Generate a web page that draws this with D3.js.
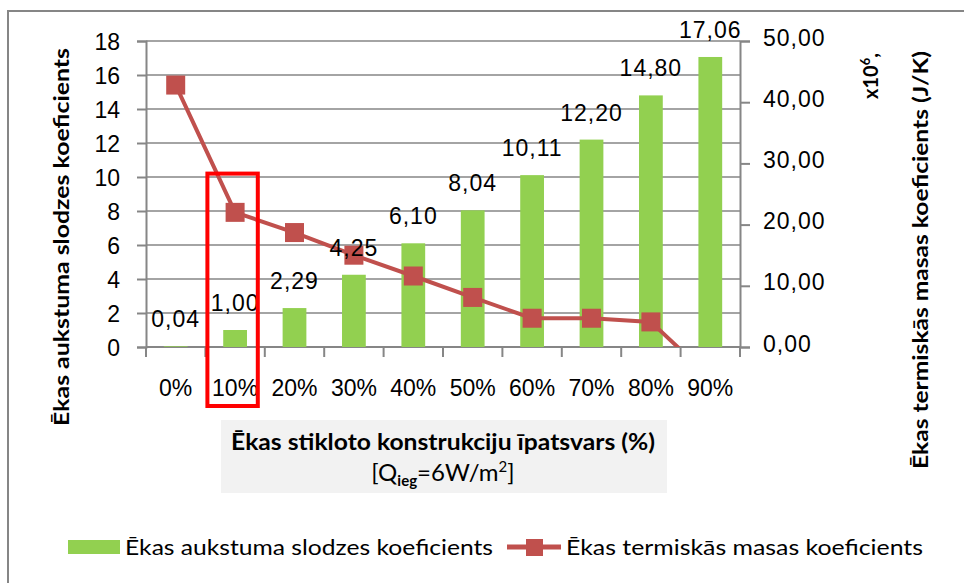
<!DOCTYPE html>
<html>
<head>
<meta charset="utf-8">
<script src="https://cdn.jsdelivr.net/npm/d3@7"></script>
<style>
  body { margin: 0; background: #fff; }
  text { font-family: "Liberation Sans", Arial, sans-serif; }
  .cal { font-family: Lato, "Open Sans", sans-serif; }
</style>
</head>
<body>
<div id="chart"></div>
<script>
// chart data
var categories = ["0%", "10%", "20%", "30%", "40%", "50%", "60%", "70%", "80%", "90%"];
var coolingLoad = [0.04, 1.00, 2.29, 4.25, 6.10, 8.04, 10.11, 12.20, 14.80, 17.06];
var thermalMass = [42.8, 22.0, 18.7, 15.0, 11.6, 8.1, 4.7, 4.7, 4.1, -5.0];
var leftTicks = [0, 2, 4, 6, 8, 10, 12, 14, 16, 18];
var rightTicks = [0, 10, 20, 30, 40, 50];

var barColor = "#92d050";
var lineColor = "#c0504d";
var gridColor = "#868686";

var svg = d3.select("#chart").append("svg")
  .attr("width", 964)
  .attr("height", 583);

svg.append("rect").attr("width", 964).attr("height", 583).attr("fill", "#fff");

// outer frame (runs off the right / bottom edge)
svg.append("rect")
  .attr("x", 8).attr("y", 11)
  .attr("width", 1000).attr("height", 1000)
  .attr("fill", "none")
  .attr("stroke", gridColor)
  .attr("stroke-width", 2);

var plot = { left: 146, right: 740, top: 41, bottom: 347 };

var x = d3.scaleBand()
  .domain(categories)
  .range([plot.left, plot.right])
  .padding(0);

var yL = d3.scaleLinear().domain([0, 18]).range([plot.bottom, plot.top]);
var yR = d3.scaleLinear().domain([0, 50]).range([plot.bottom, plot.top]);

var lv = d3.formatLocale({ decimal: ",", thousands: " ", grouping: [3], currency: ["", ""] });
var fmt2 = lv.format(".2f");

// gridlines
svg.append("g").selectAll("line")
  .data(leftTicks.filter(function(d) { return d > 0; }))
  .enter().append("line")
  .attr("x1", plot.left).attr("x2", plot.right)
  .attr("y1", function(d) { return yL(d); })
  .attr("y2", function(d) { return yL(d); })
  .attr("stroke", gridColor)
  .attr("stroke-width", 1.5);

// left axis
var leftAxis = svg.append("g")
  .attr("transform", "translate(" + plot.left + ",0)")
  .call(d3.axisLeft(yL).tickValues(leftTicks).tickSize(9).tickPadding(17).tickFormat(d3.format("d")));

// right axis
var rightAxis = svg.append("g")
  .attr("transform", "translate(" + plot.right + ",0)")
  .call(d3.axisRight(yR).tickValues(rightTicks).tickSize(10).tickPadding(13).tickFormat(fmt2));

// bottom axis: ticks at the category boundaries
var boundaries = categories.map(function(c) { return x(c); }).concat([plot.right]);
var bottom = svg.append("g");
bottom.append("line")
  .attr("x1", plot.left).attr("x2", plot.right)
  .attr("y1", plot.bottom).attr("y2", plot.bottom)
  .attr("stroke", gridColor).attr("stroke-width", 2);
bottom.selectAll(".bt").data(boundaries).enter().append("line")
  .attr("x1", function(d) { return d; }).attr("x2", function(d) { return d; })
  .attr("y1", plot.bottom).attr("y2", plot.bottom + 10)
  .attr("stroke", gridColor).attr("stroke-width", 2);
bottom.selectAll("text").data(categories).enter().append("text")
  .attr("x", function(d) { return x(d) + x.bandwidth() / 2; })
  .attr("y", 396)
  .attr("text-anchor", "middle")
  .attr("font-size", 23)
  .attr("fill", "#000")
  .text(function(d) { return d; });

[leftAxis, rightAxis].forEach(function(ax) {
  ax.select(".domain").attr("stroke", gridColor).attr("stroke-width", 2);
  ax.selectAll(".tick line").attr("stroke", gridColor).attr("stroke-width", 2);
  ax.selectAll(".tick text").attr("font-size", 23).attr("fill", "#000")
    .attr("font-family", "Liberation Sans, Arial, sans-serif");
});
rightAxis.selectAll(".tick text").attr("dy", "0.18em").attr("letter-spacing", 1);
leftAxis.selectAll(".tick text").attr("dy", "0.38em");

// bars
var barW = x.bandwidth() * 0.4;
svg.append("g").selectAll("rect")
  .data(coolingLoad)
  .enter().append("rect")
  .attr("x", function(d, i) { return x(categories[i]) + (x.bandwidth() - barW) / 2; })
  .attr("y", function(d) { return yL(d); })
  .attr("width", barW)
  .attr("height", function(d) { return yL(0) - yL(d); })
  .attr("fill", barColor);

// line, clipped to the plot area
svg.append("clipPath").attr("id", "plotClip")
  .append("rect")
  .attr("x", plot.left).attr("y", plot.top - 12)
  .attr("width", plot.right - plot.left)
  .attr("height", plot.bottom - plot.top + 12);

var lineGroup = svg.append("g").attr("clip-path", "url(#plotClip)");
var line = d3.line()
  .x(function(d, i) { return x(categories[i]) + x.bandwidth() / 2; })
  .y(function(d) { return yR(d); });

lineGroup.append("path")
  .datum(thermalMass)
  .attr("d", line)
  .attr("fill", "none")
  .attr("stroke", lineColor)
  .attr("stroke-width", 4);

var mk = 19;
lineGroup.selectAll(".mk").data(thermalMass).enter().append("rect")
  .attr("x", function(d, i) { return x(categories[i]) + x.bandwidth() / 2 - mk / 2; })
  .attr("y", function(d) { return yR(d) - mk / 2; })
  .attr("width", mk).attr("height", mk)
  .attr("fill", lineColor);

// data labels on bars
svg.append("g").selectAll("text")
  .data(coolingLoad)
  .enter().append("text")
  .attr("x", function(d, i) { return x(categories[i]) + x.bandwidth() / 2; })
  .attr("y", function(d) { return yL(d) - 19; })
  .attr("text-anchor", "middle")
  .attr("font-size", 23)
  .attr("letter-spacing", 1)
  .attr("fill", "#000")
  .text(function(d) { return fmt2(d); });

// highlight box around 10%
var hb = x("10%");
svg.append("rect")
  .attr("x", hb + 2)
  .attr("y", yL(10.2))
  .attr("width", x.bandwidth() - 9)
  .attr("height", plot.bottom + 59 - yL(10.2))
  .attr("fill", "none")
  .attr("stroke", "#ff0000")
  .attr("stroke-width", 4);

// x axis title box
svg.append("rect")
  .attr("x", 221).attr("y", 420)
  .attr("width", 446).attr("height", 73)
  .attr("fill", "#f2f2f2");

svg.append("text").attr("class", "cal")
  .attr("x", 443).attr("y", 450)
  .attr("text-anchor", "middle")
  .attr("font-size", 22).attr("font-weight", "bold")
  .attr("textLength", 424).attr("lengthAdjust", "spacingAndGlyphs")
  .text("Ēkas stikloto  konstrukciju īpatsvars (%)");

var sub = svg.append("text").attr("class", "cal")
  .attr("x", 443).attr("y", 481)
  .attr("text-anchor", "middle")
  .attr("font-size", 24);
sub.append("tspan").text("[Q");
sub.append("tspan").attr("font-size", 15).attr("font-weight", "bold").attr("dy", 5).text("ieg");
sub.append("tspan").attr("dy", -5).text("=6W/m");
sub.append("tspan").attr("font-size", 15).attr("dy", -9).text("2");
sub.append("tspan").attr("dy", 9).text("]");

// left axis title
svg.append("text").attr("class", "cal")
  .attr("transform", "translate(69,237) rotate(-90)")
  .attr("text-anchor", "middle")
  .attr("font-size", 21).attr("font-weight", "bold")
  .attr("textLength", 378).attr("lengthAdjust", "spacingAndGlyphs")
  .text("Ēkas aukstuma slodzes koeficients");

// right axis titles
svg.append("text").attr("class", "cal")
  .attr("transform", "translate(928,260) rotate(-90)")
  .attr("text-anchor", "middle")
  .attr("font-size", 21).attr("font-weight", "bold")
  .attr("textLength", 418).attr("lengthAdjust", "spacingAndGlyphs")
  .text("Ēkas termiskās masas koeficients (J/K)");

var xe = svg.append("text").attr("class", "cal")
  .attr("transform", "translate(878,76) rotate(-90)")
  .attr("text-anchor", "middle")
  .attr("font-size", 20).attr("font-weight", "bold");
xe.append("tspan").text("x10");
xe.append("tspan").attr("font-size", 13).attr("dy", -8).text("6");
xe.append("tspan").attr("dy", 8).text(",");

// legend
var legend = svg.append("g");
legend.append("rect")
  .attr("x", 68).attr("y", 540).attr("width", 52).attr("height", 14)
  .attr("fill", barColor);
legend.append("text").attr("class", "cal")
  .attr("x", 125).attr("y", 555)
  .attr("font-size", 21)
  .attr("textLength", 368).attr("lengthAdjust", "spacingAndGlyphs")
  .text("Ēkas aukstuma slodzes koeficients");
legend.append("line")
  .attr("x1", 507).attr("x2", 561).attr("y1", 547).attr("y2", 547)
  .attr("stroke", lineColor).attr("stroke-width", 5);
legend.append("rect")
  .attr("x", 526).attr("y", 539).attr("width", 17).attr("height", 17)
  .attr("fill", lineColor);
legend.append("text").attr("class", "cal")
  .attr("x", 566).attr("y", 555)
  .attr("font-size", 21)
  .attr("textLength", 357).attr("lengthAdjust", "spacingAndGlyphs")
  .text("Ēkas termiskās masas koeficients");
</script>
</body>
</html>
